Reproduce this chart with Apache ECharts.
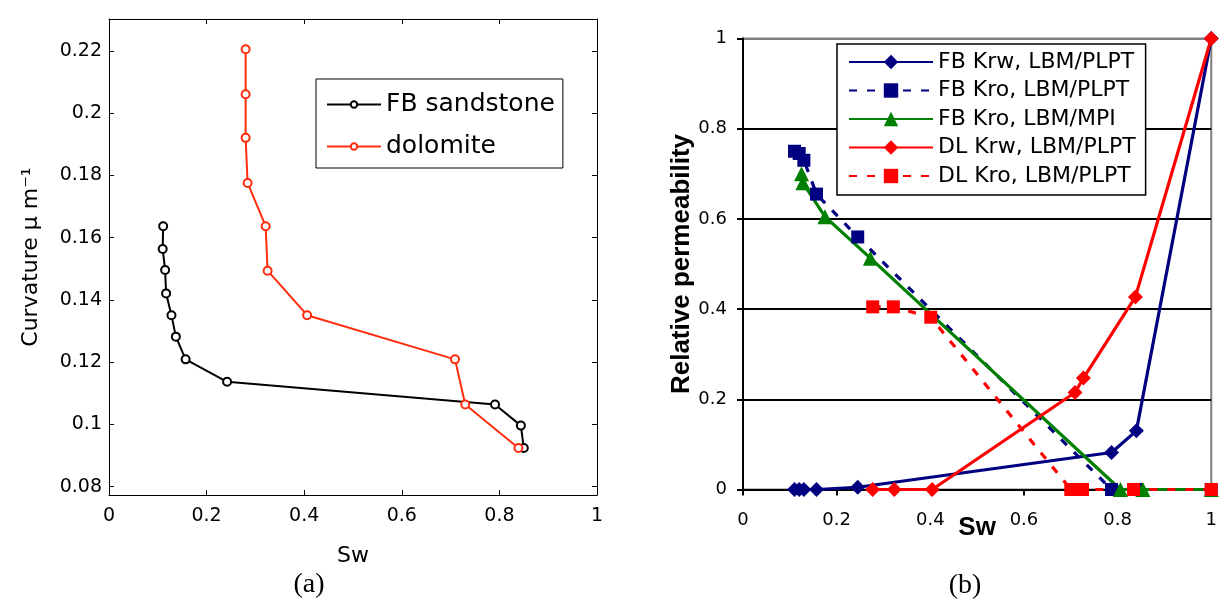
<!DOCTYPE html>
<html>
<head>
<meta charset="utf-8">
<script src="https://cdn.jsdelivr.net/npm/echarts@6/dist/echarts.min.js"></script>
<style>html,body{margin:0;padding:0;background:#fff;}#c{width:1220px;height:599px;}</style>
</head>
<body>
<div id="c"></div>
<script>
// ---- (a) Curvature vs Sw ----
const fbSw   = [0.111, 0.110, 0.115, 0.117, 0.128, 0.137, 0.157, 0.242, 0.791, 0.844, 0.850];
const fbCurv = [0.1637, 0.1564, 0.1496, 0.1421, 0.1351, 0.1282, 0.1209, 0.1137, 0.1064, 0.0996, 0.0924];
const dolSw   = [0.280, 0.280, 0.280, 0.284, 0.321, 0.325, 0.406, 0.709, 0.730, 0.839];
const dolCurv = [0.2206, 0.2061, 0.1921, 0.1776, 0.1637, 0.1494, 0.1351, 0.1209, 0.1064, 0.0924];
const curvTicks = [0.08, 0.1, 0.12, 0.14, 0.16, 0.18, 0.2, 0.22];
const swTicks = [0, 0.2, 0.4, 0.6, 0.8, 1];

// ---- (b) Relative permeability vs Sw ----
const fbSwB      = [0.11, 0.12, 0.13, 0.157, 0.245, 0.787, 0.84, 1.0];
const fbKrwPLPT  = [0, 0, 0, 0, 0.005, 0.082, 0.13, 1.0];
const fbKroPLPT  = [0.75, 0.745, 0.73, 0.655, 0.56, 0, 0, 0];
const fbSwMPI    = [0.125, 0.128, 0.175, 0.272, 0.806, 0.854, 1.0];
const fbKroMPI   = [0.70, 0.68, 0.605, 0.513, 0, 0, 0];
const dlSwKrw    = [0.277, 0.323, 0.404, 0.709, 0.727, 0.838, 1.0];
const dlKrwPLPT  = [0, 0, 0, 0.215, 0.247, 0.427, 1.0];
const dlSwKro    = [0.277, 0.321, 0.401, 0.70, 0.725, 0.834, 1.0];
const dlKroPLPT  = [0.405, 0.405, 0.382, 0, 0, 0, 0];

const names = ['FB Krw, LBM/PLPT', 'FB Kro, LBM/PLPT', 'FB Kro, LBM/MPI', 'DL Krw, LBM/PLPT', 'DL Kro, LBM/PLPT'];

const zip = (a, b) => a.map((v, i) => [v, b[i]]);
const NAVY = '#000080', GREEN = '#008000', RED = '#ff0000';
const MRED = '#ff2d0d';
const FONT = 'DejaVu Sans';

const chart = echarts.init(document.getElementById('c'), null, {renderer: 'canvas'});

const leftAxisLine = {show: true, onZero: false, lineStyle: {color: '#000', width: 1}};
const curvFmt = v => String(+(+v).toFixed(2));

chart.setOption({
  animation: false,
  backgroundColor: '#fff',
  grid: [
    {left: 109, right: 623, top: 19, bottom: 104, show: false},
    {left: 743, right: 4.5, top: 38.5, bottom: 109.5, show: true, borderColor: '#808080', borderWidth: 2}
  ],
  legend: [
    {
      data: ['FB sandstone', 'dolomite'],
      orient: 'vertical', left: 316, top: 79,
      padding: [13, 8, 9, 10],
      itemWidth: 54, itemHeight: 8, itemGap: 17,
      borderColor: '#000', borderWidth: 1, backgroundColor: '#fff',
      textStyle: {fontFamily: FONT, fontSize: 25, lineHeight: 24, color: '#000'}
    },
    {
      data: names,
      orient: 'vertical', left: 837, top: 44,
      padding: [7, 10, 8, 11],
      itemWidth: 84, itemHeight: 18, itemGap: 6.5,
      borderColor: '#000', borderWidth: 1.5, backgroundColor: '#fff',
      textStyle: {fontFamily: FONT, fontSize: 22, lineHeight: 22, color: '#000'}
    }
  ],
  xAxis: [
    {
      gridIndex: 0, type: 'value', min: 0, max: 1, interval: 0.2, position: 'bottom',
      name: 'Sw', nameLocation: 'middle', nameGap: 50, nameMoveOverlap: false,
      nameTextStyle: {fontFamily: FONT, fontSize: 22, color: '#000'},
      axisLine: leftAxisLine,
      axisTick: {show: true, inside: true, length: 5, lineStyle: {color: '#000'}},
      axisLabel: {fontFamily: FONT, fontSize: 19, color: '#000', margin: 12},
      splitLine: {show: false}
    },
    {
      gridIndex: 0, type: 'value', min: 0, max: 1, interval: 0.2, position: 'top',
      axisLine: leftAxisLine,
      axisTick: {show: true, inside: true, length: 5, lineStyle: {color: '#000'}},
      axisLabel: {show: false}, splitLine: {show: false}
    },
    {
      gridIndex: 1, type: 'value', min: 0, max: 1, interval: 0.2,
      name: 'Sw', nameLocation: 'middle', nameGap: 25, nameMoveOverlap: false,
      nameTextStyle: {fontFamily: 'Liberation Sans', fontWeight: 'bold', fontSize: 26, color: '#000'},
      axisLine: {show: true, onZero: false, lineStyle: {color: '#000', width: 2}},
      axisTick: {show: true, inside: false, length: 6, lineStyle: {color: '#000', width: 2}},
      axisLabel: {fontFamily: FONT, fontSize: 18, color: '#000', margin: 22},
      splitLine: {show: false}
    }
  ],
  yAxis: [
    {
      gridIndex: 0, type: 'value', min: 0.0773, max: 0.2303, position: 'left',
      name: 'Curvature \u03bc m\u207b\u00b9', nameLocation: 'middle', nameGap: 67, nameRotate: 90,
      nameTextStyle: {fontFamily: FONT, fontSize: 22, color: '#000'},
      axisLine: leftAxisLine,
      axisTick: {show: true, inside: true, length: 5, customValues: curvTicks, lineStyle: {color: '#000'}},
      axisLabel: {fontFamily: FONT, fontSize: 19, color: '#000', margin: 7, customValues: curvTicks, formatter: curvFmt},
      splitLine: {show: false}
    },
    {
      gridIndex: 0, type: 'value', min: 0.0773, max: 0.2303, position: 'right',
      axisLine: leftAxisLine,
      axisTick: {show: true, inside: true, length: 5, customValues: curvTicks, lineStyle: {color: '#000'}},
      axisLabel: {show: false, customValues: curvTicks},
      splitLine: {show: false}
    },
    {
      gridIndex: 1, type: 'value', min: 0, max: 1, interval: 0.2,
      name: 'Relative permeability', nameLocation: 'middle', nameGap: 29, nameRotate: 90,
      nameTextStyle: {fontFamily: 'Liberation Sans', fontWeight: 'bold', fontSize: 26, color: '#000'},
      axisLine: {show: true, onZero: false, lineStyle: {color: '#000', width: 2}},
      axisTick: {show: true, inside: false, length: 6, lineStyle: {color: '#000', width: 2}},
      axisLabel: {fontFamily: FONT, fontSize: 18, color: '#000', margin: 16},
      splitLine: {show: true, lineStyle: {color: ['#000', '#000', '#000', '#000', '#000', '#808080'], width: 2}}
    }
  ],
  series: [
    {
      name: 'FB sandstone', type: 'line', xAxisIndex: 0, yAxisIndex: 0,
      data: zip(fbSw, fbCurv), symbol: 'emptyCircle', symbolSize: 8,
      lineStyle: {color: '#000', width: 2}, itemStyle: {color: '#000', borderWidth: 1.8}
    },
    {
      name: 'dolomite', type: 'line', xAxisIndex: 0, yAxisIndex: 0,
      data: zip(dolSw, dolCurv), symbol: 'emptyCircle', symbolSize: 8,
      lineStyle: {color: MRED, width: 2}, itemStyle: {color: MRED, borderWidth: 1.8}
    },
    {
      name: names[0], type: 'line', xAxisIndex: 2, yAxisIndex: 2,
      data: zip(fbSwB, fbKrwPLPT), symbol: 'diamond', symbolSize: 15,
      lineStyle: {color: NAVY, width: 3.2}, itemStyle: {color: NAVY}
    },
    {
      name: names[1], type: 'line', xAxisIndex: 2, yAxisIndex: 2,
      data: zip(fbSwB, fbKroPLPT), symbol: 'rect', symbolSize: 13,
      lineStyle: {color: NAVY, width: 3.2, type: [8, 10]}, itemStyle: {color: NAVY}
    },
    {
      name: names[2], type: 'line', xAxisIndex: 2, yAxisIndex: 2,
      data: zip(fbSwMPI, fbKroMPI), symbol: 'triangle', symbolSize: 15,
      lineStyle: {color: GREEN, width: 3.2}, itemStyle: {color: GREEN}
    },
    {
      name: names[3], type: 'line', xAxisIndex: 2, yAxisIndex: 2,
      data: zip(dlSwKrw, dlKrwPLPT), symbol: 'diamond', symbolSize: 15,
      lineStyle: {color: RED, width: 3.2}, itemStyle: {color: RED}
    },
    {
      name: names[4], type: 'line', xAxisIndex: 2, yAxisIndex: 2,
      data: zip(dlSwKro, dlKroPLPT), symbol: 'rect', symbolSize: 13,
      lineStyle: {color: RED, width: 3.2, type: [8, 10]}, itemStyle: {color: RED}
    }
  ],
  graphic: [
    {type: 'text', style: {text: '(a)', x: 309, y: 585, align: 'center', verticalAlign: 'middle', font: '28px "Liberation Serif"', fill: '#000'}},
    {type: 'text', style: {text: '(b)', x: 965, y: 586, align: 'center', verticalAlign: 'middle', font: '28px "Liberation Serif"', fill: '#000'}}
  ]
});
</script>
</body>
</html>
